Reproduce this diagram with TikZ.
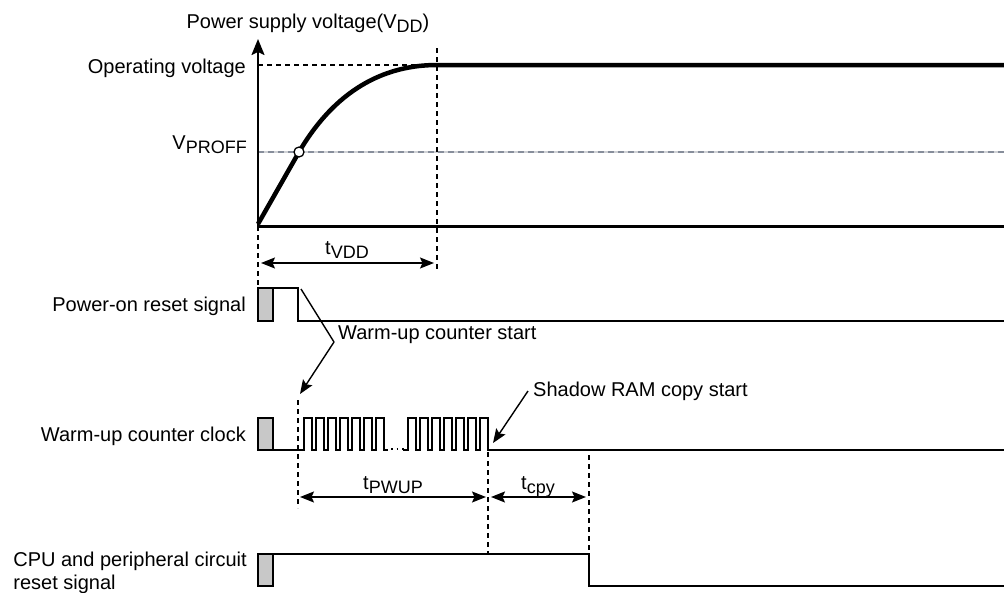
\documentclass[tikz,border=0pt]{standalone}
\usepackage{fontspec}
\setmainfont{Liberation Sans}
\usetikzlibrary{arrows.meta}
\newcommand\lsub[1]{\raisebox{-0.24em}{\fontsize{18}{18}\selectfont #1}}
\definecolor{boxgray}{RGB}{200,200,200}
\definecolor{proffdash}{RGB}{135,142,155}
\definecolor{profflight}{RGB}{208,210,214}
\tikzset{
  lbl/.style={font=\fontsize{20}{23}\selectfont, inner sep=0pt},
  sig/.style={line width=1.4pt, line join=miter},
  dsh/.style={line width=1.3pt, dash pattern=on 5pt off 4pt},
  gbox/.style={draw, line width=1.4pt, fill=boxgray},
  dimarrow/.style={line width=1.4pt, {Stealth[length=14pt,width=11pt,inset=2.5pt]}-{Stealth[length=14pt,width=11pt,inset=2.5pt]}},
  callout/.style={line width=1.4pt, -{Stealth[length=14pt,width=11pt,inset=2.5pt]}},
}
\begin{document}
\begin{tikzpicture}[x=1pt,y=-1pt]
\useasboundingbox (0,0) rectangle (1004,592);
% ---------- VDD graph ----------
\coordinate (O) at (258,226);
\coordinate (Ytop) at (258,39);
\coordinate (Vp) at (299,152);
\coordinate (Vop) at (437,65);
% VPROFF line
\draw[line width=1.8pt, profflight] (258,152) -- (1004,152);
\draw[line width=1.8pt, proffdash, dash pattern=on 6pt off 4pt] (258,152) -- (1004,152);
% operating voltage dashed
\draw[dsh] (258,65) -- (Vop);
% vertical dashed lines
\draw[dsh] (437,48) -- (437,270);
\draw[dsh] (258,226) -- (258,288);
% axes
\draw[line width=2pt, -{Stealth[length=16pt,width=13pt,inset=3pt]}] (O) -- (Ytop);
\draw[line width=3pt] (257,226) -- (1004,226);
% VDD curve
\draw[line width=4.5pt, line cap=butt, line join=round] (258,224) -- (Vp) .. controls (330,99) and (375,65) .. (Vop) -- (1004,65);
\draw[line width=1.3pt, fill=white] (Vp) circle (5pt);
% labels
\node[lbl, anchor=base] (title) at (308,28) {Power supply voltage(V\lsub{DD})};
\node[lbl, anchor=base east] (opv) at (246,73) {Operating voltage};
\node[lbl, anchor=base east] (vproff) at (247,149) {V\lsub{PROFF}};
% tVDD
\draw[dimarrow] (261,263) -- (434,263);
\node[lbl, anchor=base] (tvdd) at (347,254) {t\lsub{VDD}};
% ---------- Power-on reset ----------
\node[lbl, anchor=base east] (por) at (246,311) {Power-on reset signal};
\draw[gbox] (258,288) rectangle (273,321);
\draw[sig] (273,288) -- (298,288) -- (298,321) -- (1004,321);
\node[lbl, anchor=base west] (wcs) at (338,339) {Warm-up counter start};
\coordinate (wbend) at (334,342);
\draw[line width=1.4pt] (301,289) -- (wbend);
\draw[callout] (wbend) -- (300,394);
% ---------- Warm-up counter clock ----------
\node[lbl, anchor=base east] (wuc) at (246,441) {Warm-up counter clock};
\draw[gbox] (258,418) rectangle (273,450);
\draw[sig] (273,450) -- (304,450)
  \foreach \i in {1,...,7} { -- ++(0,-32) -- ++(8,0) -- ++(0,32) \ifnum\i<7 -- ++(4,0)\fi }
  -- (388,450);
\draw[line width=1.6pt, dash pattern=on 1.6pt off 4pt] (391,449) -- (404,449);
\draw[sig] (403,450) -- (408,450)
  \foreach \i in {1,...,7} { -- ++(0,-32) -- ++(8,0) -- ++(0,32) \ifnum\i<7 -- ++(4,0)\fi }
  -- (1004,450);
\node[lbl, anchor=base west] (srcs) at (533,396) {Shadow RAM copy start};
\draw[callout] (528,391) -- (493,443);
% dashed verticals
\draw[dsh] (298,400) -- (298,508);
\draw[dsh] (488,452) -- (488,554);
\draw[dsh] (589,455) -- (589,554);
% tPWUP and tcpy
\draw[dimarrow] (300,497) -- (486,497);
\node[lbl, anchor=base] (tpwup) at (393,489) {t\lsub{PWUP}};
\draw[dimarrow] (491,497) -- (586,497);
\node[lbl, anchor=base] (tcpy) at (538,489) {t\lsub{cpy}};
% ---------- CPU reset ----------
\node[lbl, anchor=east, align=left] (cpu) at (247,573) {CPU and peripheral circuit\\reset signal};
\draw[gbox] (258,554) rectangle (273,586);
\draw[sig] (273,554) -- (589,554) -- (589,586) -- (1004,586);
\end{tikzpicture}
\end{document}
